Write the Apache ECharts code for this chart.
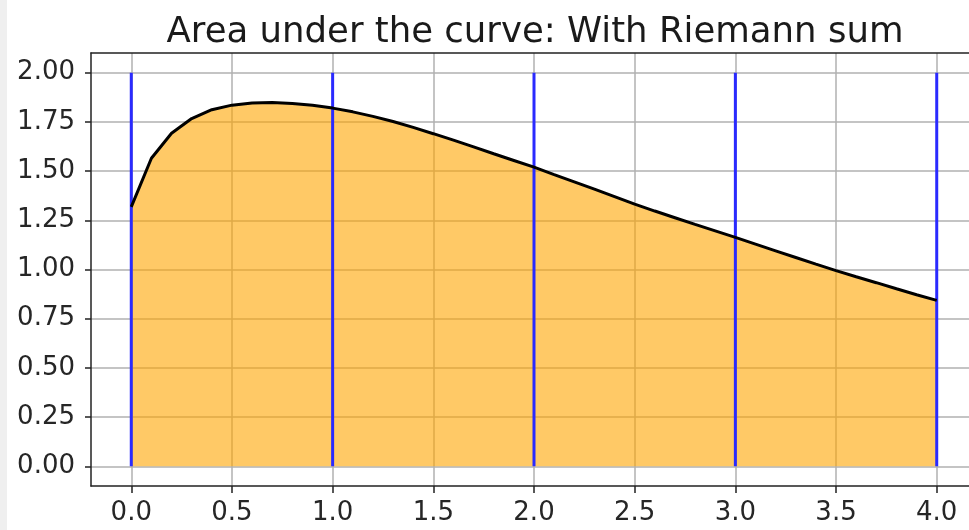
<!DOCTYPE html>
<html>
<head>
<meta charset="utf-8">
<script src="https://cdn.jsdelivr.net/npm/echarts@6/dist/echarts.min.js"></script>
<style>html,body{margin:0;padding:0;background:#fff}#c{width:969px;height:530px}</style>
</head>
<body>
<div id="c"></div>
<script>
const titleText = 'Area under the curve: With Riemann sum';
const curveX = [0.0,0.1,0.2,0.3,0.4,0.5,0.6,0.7,0.8,0.9,1.0,1.1,1.2,1.3,1.4,1.5,1.6,1.7,1.8,1.9,2.0,2.1,2.2,2.3,2.4,2.5,2.6,2.7,2.8,2.9,3.0,3.1,3.2,3.3,3.4,3.5,3.6,3.7,3.8,3.9,4.0];
const curveY = [1.318,1.565,1.692,1.767,1.812,1.835,1.846,1.848,1.844,1.834,1.820,1.801,1.778,1.752,1.722,1.690,1.657,1.623,1.588,1.554,1.520,1.482,1.445,1.408,1.370,1.332,1.297,1.263,1.229,1.196,1.163,1.129,1.095,1.061,1.027,0.994,0.963,0.933,0.902,0.872,0.843];
const riemannX = [0,1,2,3,4];
const riemannTop = 2.0;
const xTicks = [0,0.5,1,1.5,2,2.5,3,3.5,4];
const yTicks = [0,0.25,0.5,0.75,1,1.25,1.5,1.75,2];

const chart = echarts.init(document.getElementById('c'));
const font = 'DejaVu Sans';
const curveData = curveX.map((x,i)=>[x,curveY[i]]);
const vlines = [];
riemannX.forEach(x=>{ vlines.push([x,0]); vlines.push([x,riemannTop]); vlines.push([x,'-']); });
const spine = {show:true,onZero:false,lineStyle:{color:'#222',width:1.5}};

chart.setOption({
  animation:false,
  backgroundColor:'#fff',
  title:{text:titleText,left:530,top:10,textAlign:'center',
    textStyle:{fontFamily:font,fontSize:35.5,fontWeight:'normal',color:'#1a1a1a'}},
  graphic:[{type:'rect',left:0,top:0,shape:{x:0,y:0,width:7,height:530},style:{fill:'#efefef'},silent:true}],
  grid:{left:91,top:53,width:886,bottom:44,containLabel:false,outerBoundsMode:'none',show:false},
  xAxis:[{type:'value',min:-0.2,max:4.2,position:'bottom',
    axisLine:spine,
    axisTick:{show:true,customValues:xTicks,length:7,lineStyle:{color:'#222',width:1.5}},
    axisLabel:{customValues:xTicks,formatter:v=>v.toFixed(1),fontFamily:font,fontSize:26,color:'#262626',margin:14},
    splitLine:{show:true,lineStyle:{color:'#b0b0b0',width:1.5}}},
   {type:'value',min:-0.2,max:4.2,position:'top',
    axisLine:spine,axisTick:{show:false},axisLabel:{show:false},splitLine:{show:false}}],
  yAxis:{type:'value',min:-0.1,max:2.1,
    axisLine:spine,
    axisTick:{show:true,customValues:yTicks,length:6,lineStyle:{color:'#222',width:1.5}},
    axisLabel:{customValues:yTicks,formatter:v=>v.toFixed(2),fontFamily:font,fontSize:26,color:'#262626',margin:16,padding:[6,0,0,0]},
    splitLine:{show:true,lineStyle:{color:'#b0b0b0',width:1.5}}},
  series:[
    {type:'line',data:curveData,showSymbol:false,symbol:'none',z:2,
      lineStyle:{width:0},areaStyle:{color:'#ffa500',opacity:0.6,origin:0}},
    {type:'line',data:vlines,showSymbol:false,symbol:'none',connectNulls:false,z:3,
      lineStyle:{color:'#2a2aff',width:3}},
    {type:'line',data:curveData,showSymbol:false,symbol:'none',z:4,
      lineStyle:{color:'#000',width:3}}
  ]
});
</script>
</body>
</html>
